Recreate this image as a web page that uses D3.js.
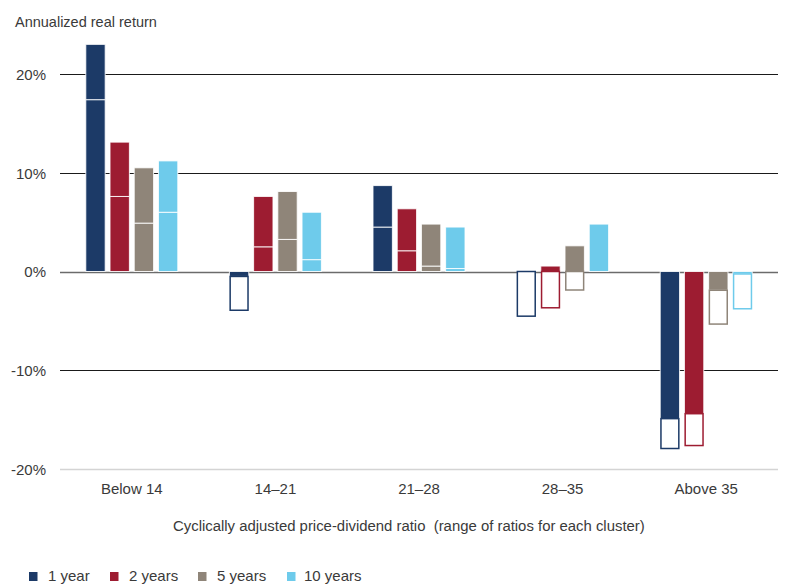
<!DOCTYPE html>
<html><head><meta charset="utf-8">
<script src="https://cdn.jsdelivr.net/npm/d3@7/dist/d3.min.js"></script>
<style>
html,body{margin:0;padding:0;background:#fff;}
svg{display:block;font-family:"Liberation Sans","Helvetica Neue",Arial,sans-serif;}
text{fill:#3a3a3a;}
</style></head>
<body><svg id="chart" width="787" height="585"></svg>
<script>
const categories = ["Below 14", "14\u201321", "21\u201328", "28\u201335", "Above 35"];
const seriesNames = ["1 year", "2 years", "5 years", "10 years"];
const seriesColors = ["#1c3a67", "#9d1c31", "#8f8579", "#6ecbeb"];
// first component (always filled), per category, per series
const part1 = [
  [17.4, 7.6, 4.9, 6.0],
  [-0.5, 2.5, 3.25, 1.2],
  [4.5, 2.1, 0.55, 0.3],
  [0, 0.55, 2.6, 4.8],
  [-14.9, -14.4, -1.9, -0.25]
];
// second component (filled when positive, outlined when negative)
const part2 = [
  [5.6, 5.5, 5.6, 5.2],
  [-3.5, 5.1, 4.85, 4.8],
  [4.2, 4.25, 4.25, 4.2],
  [-4.6, -3.75, -1.95, 0],
  [-3.1, -3.3, -3.5, -3.6]
];
const yTicks = [20, 10, 0, -10, -20];
const yTitle = "Annualized real return";
const xTitle = "Cyclically adjusted price-dividend ratio  (range of ratios for each cluster)";

const svg = d3.select("#chart");
const x = d3.scaleBand().domain(categories).range([60, 778]).padding(0);
const xs = d3.scaleBand().domain(seriesNames).range([0, 92]).paddingInner(0.2);
const y = d3.scaleLinear().domain([-20, 20]).range([469, 74]);

// gridlines
const grid = svg.append("g");
yTicks.forEach(t => {
  let stroke = "#1a1a1a", w = 1.2;
  if (t === 0) { stroke = "#6b6b6b"; w = 1.6; }
  if (t === -20) { stroke = "#d4d4d4"; w = 1.6; }
  grid.append("line").attr("x1", 60).attr("x2", 778)
    .attr("y1", Math.round(y(t)) + 0.5).attr("y2", Math.round(y(t)) + 0.5)
    .attr("stroke", stroke).attr("stroke-width", w);
});

// y tick labels
const yAxis = d3.axisLeft(y).tickValues(yTicks).tickSize(0).tickPadding(0)
  .tickFormat(d => d + "%");
svg.append("g").attr("transform", "translate(46,0)").call(yAxis)
  .call(g => g.select(".domain").remove())
  .call(g => g.selectAll("text").attr("font-size", 15).attr("fill", "#3a3a3a")
    .attr("font-family", "Liberation Sans, Arial, sans-serif").attr("dy", "0.35em"));

svg.append("text").attr("x", 15).attr("y", 27).attr("font-size", 14.5).text(yTitle);

// bars: diverging stacks
const bars = svg.append("g");
categories.forEach((cat, ci) => {
  seriesNames.forEach((s, si) => {
    const rows = [{a: part1[ci][si], b: part2[ci][si]}];
    const stacked = d3.stack().keys(["a", "b"]).offset(d3.stackOffsetDiverging)(rows);
    const bx = x(cat) + x.bandwidth() / 2 - 46 + xs(s);
    const bw = xs.bandwidth();
    stacked.forEach((layer, li) => {
      const d = layer[0];
      const v = rows[0][layer.key];
      if (v === 0) return;
      const y0 = y(Math.max(d[0], d[1])), y1 = y(Math.min(d[0], d[1]));
      const hollow = li === 1 && v < 0;
      bars.append("rect")
        .attr("x", bx + (hollow ? 0.75 : 0)).attr("width", bw - (hollow ? 1.5 : 0))
        .attr("y", y0).attr("height", Math.max(0.5, y1 - y0 - (hollow ? 0.75 : 0)))
        .attr("fill", hollow ? "#fff" : seriesColors[si])
        .attr("stroke", hollow ? seriesColors[si] : "#fff")
        .attr("stroke-opacity", hollow ? 1 : 0.85)
        .attr("stroke-width", hollow ? 1.5 : 1);
    });
  });
});

// x category labels
const xAxis = d3.axisBottom(x).tickSize(0).tickPadding(0);
svg.append("g").attr("transform", "translate(0,483)").call(xAxis)
  .call(g => g.select(".domain").remove())
  .call(g => g.selectAll("text").attr("font-size", 15).attr("fill", "#3a3a3a")
    .attr("font-family", "Liberation Sans, Arial, sans-serif").attr("dy", "0.75em"));

svg.append("text").attr("x", 173).attr("y", 531).attr("font-size", 14.9)
  .style("white-space", "pre").text(xTitle);

// legend
const legendX = [29, 110, 198, 287];
const lg = svg.append("g");
seriesNames.forEach((s, i) => {
  lg.append("rect").attr("x", legendX[i]).attr("y", 572).attr("width", 8.5).attr("height", 9)
    .attr("fill", seriesColors[i]);
  lg.append("text").attr("x", legendX[i] + 19 - (i === 3 ? 2 : 0)).attr("y", 581).attr("font-size", 15).text(s);
});
</script></body></html>
